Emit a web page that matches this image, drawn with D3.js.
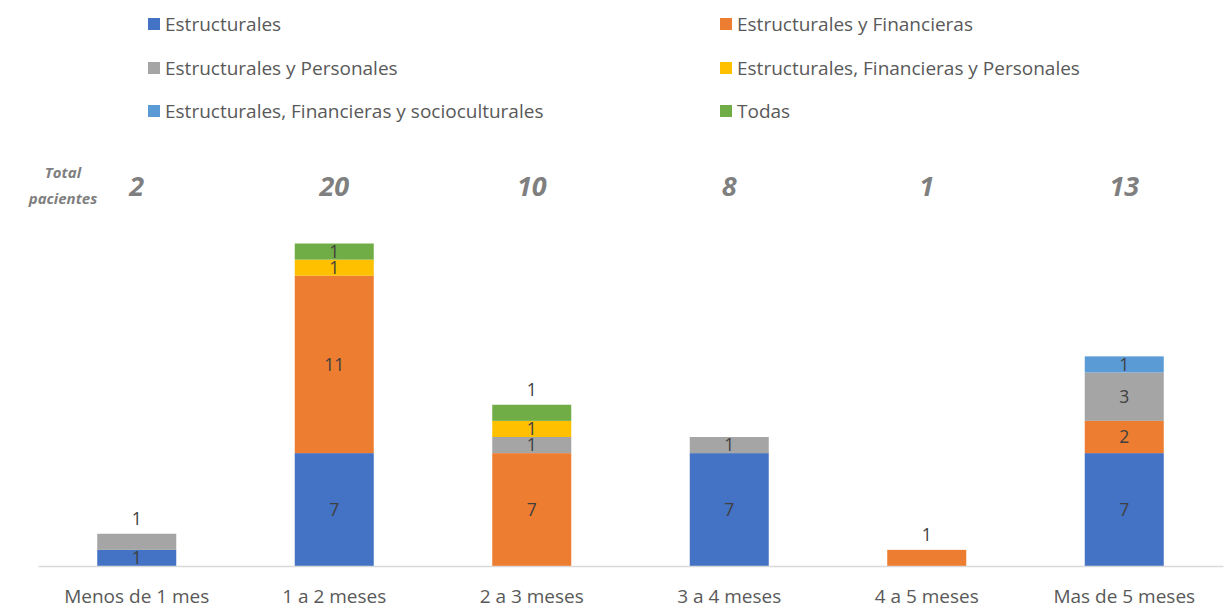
<!DOCTYPE html>
<html>
<head>
<meta charset="utf-8">
<script src="https://cdn.jsdelivr.net/npm/d3@7"></script>
<style>
  body { margin: 0; background: #fff; }
  svg text { font-family: "Open Sans", "Noto Sans", sans-serif; }
</style>
</head>
<body>
<div id="chart"></div>
<script>
const categories = ["Menos de 1 mes", "1 a 2 meses", "2 a 3 meses", "3 a 4 meses", "4 a 5 meses", "Mas de 5 meses"];
const seriesNames = [
  "Estructurales",
  "Estructurales y Financieras",
  "Estructurales y Personales",
  "Estructurales, Financieras y Personales",
  "Estructurales, Financieras y socioculturales",
  "Todas"
];
const estructurales = [1, 7, 0, 7, 0, 7];
const estFinancieras = [0, 11, 7, 0, 1, 2];
const estPersonales = [1, 0, 1, 1, 0, 3];
const estFinPersonales = [0, 1, 1, 0, 0, 0];
const estFinSocio = [0, 0, 0, 0, 0, 1];
const todas = [0, 1, 1, 0, 0, 0];
const totals = [2, 20, 10, 8, 1, 13];
const colors = ["#4472C4", "#ED7D31", "#A5A5A5", "#FFC000", "#5B9BD5", "#70AD47"];

// labels that Excel placed above the bar
const labelsAbove = [[0, 2], [2, 5], [4, 1]];

const width = 1224, height = 610;
const svg = d3.select("#chart").append("svg")
  .attr("width", width)
  .attr("height", height);

const rows = categories.map((c, i) => ({
  cat: c,
  s0: estructurales[i], s1: estFinancieras[i], s2: estPersonales[i],
  s3: estFinPersonales[i], s4: estFinSocio[i], s5: todas[i]
}));
const keys = ["s0", "s1", "s2", "s3", "s4", "s5"];
const stacked = d3.stack().keys(keys)(rows);

const x = d3.scaleBand().domain(categories).range([38, 1223])
  .paddingInner(0.6).paddingOuter(0.3);
const y = d3.scaleLinear().domain([0, 20]).range([566, 243.5]);

// bars
stacked.forEach((layer, si) => {
  svg.append("g").selectAll("rect")
    .data(layer.filter(d => d[1] - d[0] > 0))
    .enter().append("rect")
    .attr("x", d => x(d.data.cat))
    .attr("y", d => y(d[1]))
    .attr("width", x.bandwidth())
    .attr("height", d => y(d[0]) - y(d[1]))
    .attr("fill", colors[si]);
});

// data labels
stacked.forEach((layer, si) => {
  layer.forEach((d, ci) => {
    const v = d[1] - d[0];
    if (v <= 0) return;
    const above = labelsAbove.some(p => p[0] === ci && p[1] === si);
    const cy = above ? y(d[1]) - 15 : (y(d[0]) + y(d[1])) / 2;
    svg.append("text")
      .attr("x", x(d.data.cat) + x.bandwidth() / 2)
      .attr("y", cy)
      .attr("dy", "0.35em")
      .attr("text-anchor", "middle")
      .attr("font-size", 17.5)
      .attr("fill", "#404040")
      .text(v);
  });
});

// x axis
const xAxis = svg.append("g")
  .attr("transform", "translate(0,566)")
  .call(d3.axisBottom(x).tickSize(0).tickPadding(24));
xAxis.select(".domain").attr("stroke", "#D9D9D9").attr("stroke-width", 1.5);
xAxis.selectAll("text")
  .attr("font-size", 19)
  .attr("fill", "#595959")
  .style("font-family", "'Open Sans', sans-serif");

// totals row
svg.append("g").selectAll("text")
  .data(totals)
  .enter().append("text")
  .attr("x", (d, i) => x(categories[i]) + x.bandwidth() / 2)
  .attr("y", 187)
  .attr("dy", "0.35em")
  .attr("text-anchor", "middle")
  .attr("font-size", 27)
  .attr("font-weight", "bold")
  .attr("font-style", "italic")
  .attr("fill", "#7F7F7F")
  .text(d => d);

const tl = svg.append("text")
  .attr("text-anchor", "middle")
  .attr("font-size", 15)
  .attr("font-weight", "bold")
  .attr("font-style", "italic")
  .attr("fill", "#7F7F7F");
tl.append("tspan").attr("x", 63).attr("y", 178).text("Total");
tl.append("tspan").attr("x", 63).attr("y", 204).text("pacientes");

// legend
const legend = svg.append("g").selectAll("g")
  .data(seriesNames)
  .enter().append("g")
  .attr("transform", (d, i) => `translate(${i % 2 === 0 ? 148 : 720},${[24, 68, 111][Math.floor(i / 2)]})`);
legend.append("rect")
  .attr("x", 0).attr("y", -6)
  .attr("width", 12).attr("height", 12)
  .attr("fill", (d, i) => colors[i]);
legend.append("text")
  .attr("x", 17)
  .attr("dy", "0.35em")
  .attr("font-size", 19)
  .attr("fill", "#595959")
  .text(d => d);
</script>
</body>
</html>
